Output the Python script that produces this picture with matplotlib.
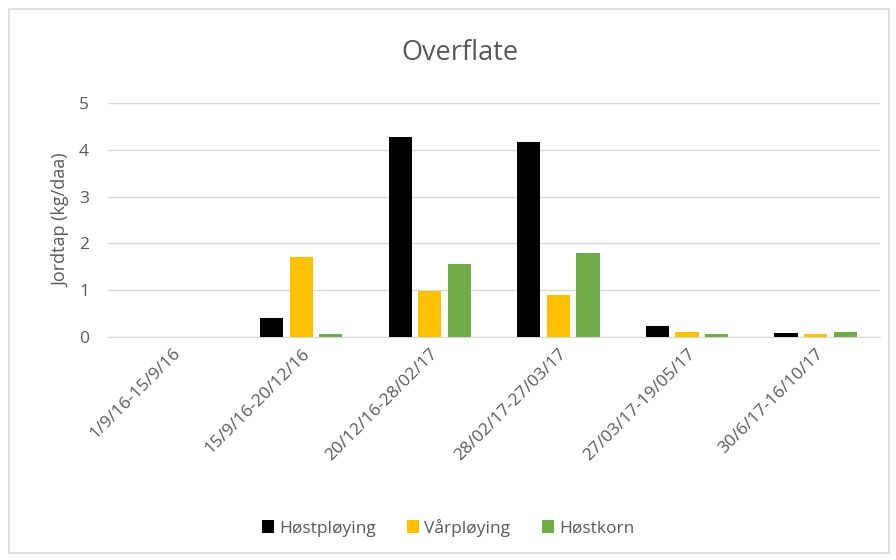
import numpy as np
import matplotlib
matplotlib.use('Agg')
import matplotlib.pyplot as plt
from matplotlib.patches import FancyBboxPatch

periods = ['1/9/16-15/9/16', '15/9/16-20/12/16', '20/12/16-28/02/17',
           '28/02/17-27/03/17', '27/03/17-19/05/17', '30/6/17-16/10/17']
hostploying = [0.0, 0.41, 4.27, 4.17, 0.23, 0.08]
varploying = [0.0, 1.71, 0.98, 0.90, 0.11, 0.06]
hostkorn = [0.0, 0.07, 1.56, 1.79, 0.06, 0.10]
series = ['Høstpløying', 'Vårpløying', 'Høstkorn']
colors = ['#000000', '#FFC000', '#70AD47']

plt.rcParams['font.family'] = ['Open Sans', 'DejaVu Sans']
txt = '#595959'

fig = plt.figure(figsize=(8.96, 5.6), dpi=100)
fig.patches.append(FancyBboxPatch((0.01, 0.012), 0.982, 0.972, boxstyle='square,pad=0',
                                  transform=fig.transFigure, fill=False,
                                  edgecolor='#D9D9D9', linewidth=1.2))
ax = fig.add_axes([0.121, 0.398, 0.861, 0.418])

x = np.arange(len(periods))
w = 0.18
step = 0.23
for i, (vals, name, c) in enumerate(zip([hostploying, varploying, hostkorn], series, colors)):
    ax.bar(x + (i - 1) * step, vals, width=w, color=c, label=name, zorder=3)

ax.set_xlim(-0.5, len(periods) - 0.5)
ax.set_ylim(0, 5)
ax.set_yticks(range(6))
ax.yaxis.grid(True, color='#D9D9D9', linewidth=1, zorder=0)
for s in ['top', 'right', 'left']:
    ax.spines[s].set_visible(False)
ax.spines['bottom'].set_color('#D9D9D9')
ax.tick_params(axis='both', length=0, colors=txt, labelsize=12.5)
ax.tick_params(axis='y', pad=14)
ax.tick_params(axis='x', pad=6)
ax.set_xticks(x)
ax.set_xticklabels(periods, rotation=45, ha='right', rotation_mode='anchor')
ax.set_ylabel('Jordtap (kg/daa)', color=txt, fontsize=13, labelpad=6)

fig.text(0.513, 0.905, 'Overflate', ha='center', va='center', fontsize=19.5, color=txt)

fig.legend(loc='center', bbox_to_anchor=(0.5, 0.058), ncol=3, frameon=False,
           fontsize=12.5, labelcolor=txt, handlelength=0.7, handleheight=0.7,
           handletextpad=0.3, columnspacing=1.8)

fig.savefig('out.png', dpi=100)
